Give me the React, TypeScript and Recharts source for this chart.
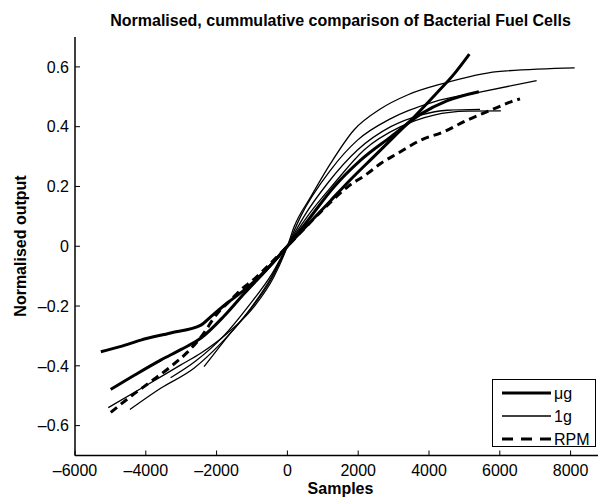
import { LineChart, Line, XAxis, YAxis, Legend } from 'recharts'

const FONT = '"Liberation Sans", Arial, Helvetica, sans-serif'

const X_DOMAIN = [-6000, 9000]
const Y_DOMAIN = [-0.7, 0.7]
const X_TICKS = [-6000, -4000, -2000, 0, 2000, 4000, 6000, 8000]
const Y_TICKS = [-0.6, -0.4, -0.2, 0, 0.2, 0.4, 0.6]

// μg runs (thick solid)
const ugA = [
  [-5270, -0.353], [-4700, -0.335], [-4140, -0.314], [-3300, -0.29], [-2444, -0.264],
  [-2167, -0.236], [-1700, -0.19], [-1225, -0.147], [-565, -0.075], [0, 0],
  [600, 0.075], [1200, 0.15], [1800, 0.225], [2400, 0.295], [3000, 0.365],
  [3600, 0.435], [4200, 0.51], [4700, 0.575], [5140, 0.643],
]
const ugB = [
  [-4990, -0.479], [-4300, -0.43], [-3580, -0.381], [-3000, -0.345], [-2450, -0.308],
  [-1800, -0.235], [-1220, -0.158], [-600, -0.08], [0, 0],
  [600, 0.09], [1320, 0.199], [2070, 0.288], [2920, 0.366], [3765, 0.442],
  [4520, 0.487], [5410, 0.517],
]

// 1g runs (thin solid)
const g1A = [
  [-5060, -0.54], [-4050, -0.47], [-3010, -0.397], [-2450, -0.358], [-1695, -0.291],
  [-940, -0.202], [-380, -0.102], [0, 0],
  [190, 0.065], [660, 0.165], [1220, 0.277], [1880, 0.389], [2635, 0.46],
  [3390, 0.506], [4420, 0.545], [5930, 0.584], [8115, 0.597],
]
const g1B = [
  [-4450, -0.546], [-3580, -0.475], [-2640, -0.408], [-1880, -0.325], [-1130, -0.224],
  [-470, -0.113], [0, 0],
  [375, 0.1], [1220, 0.255], [1980, 0.355], [2920, 0.427], [4140, 0.483],
  [5370, 0.514], [7040, 0.554],
]
const g1C = [
  [-2355, -0.403], [-1695, -0.303], [-1040, -0.208], [-470, -0.107], [0, 0],
  [470, 0.1], [1130, 0.21], [1980, 0.322], [2920, 0.4], [3765, 0.439],
  [4520, 0.455], [5440, 0.458],
]
const g1D = [
  [-3300, -0.44], [-2600, -0.385], [-1800, -0.3], [-1100, -0.2], [-450, -0.095], [0, 0],
  [565, 0.1], [1320, 0.21], [2165, 0.322], [3200, 0.4], [4140, 0.439],
  [5080, 0.452], [6030, 0.453],
]

// RPM run (thick dashed)
const rpmA = [
  [-4990, -0.556], [-4400, -0.5], [-3860, -0.453], [-3300, -0.403], [-2830, -0.355],
  [-2450, -0.305], [-1980, -0.225], [-1600, -0.18], [-1270, -0.141], [-990, -0.115],
  [-500, -0.06], [0, 0],
  [940, 0.115], [1695, 0.198], [2260, 0.243], [2635, 0.277], [3110, 0.31],
  [3765, 0.355], [4420, 0.383], [5080, 0.422], [5740, 0.455], [6310, 0.483], [6570, 0.493],
]

const STYLES = {
  ug: { width: 3, dash: undefined as string | undefined, legendDash: undefined as string | undefined },
  g1: { width: 1.3, dash: undefined as string | undefined, legendDash: undefined as string | undefined },
  rpm: { width: 3, dash: '8 5', legendDash: '11 8' },
}

const SERIES = [
  { id: 'ugA', kind: 'ug', pts: ugA },
  { id: 'ugB', kind: 'ug', pts: ugB },
  { id: 'g1A', kind: 'g1', pts: g1A },
  { id: 'g1B', kind: 'g1', pts: g1B },
  { id: 'g1C', kind: 'g1', pts: g1C },
  { id: 'g1D', kind: 'g1', pts: g1D },
  { id: 'rpmA', kind: 'rpm', pts: rpmA },
] as const

const LEGEND_ITEMS = [
  { label: 'μg', kind: 'ug' },
  { label: '1g', kind: 'g1' },
  { label: 'RPM', kind: 'rpm' },
] as const

const fmtX = (v: number) => String(v).replace('-', '\u2013')
const fmtY = (v: number) => (v === 0 ? '0' : v.toFixed(1).replace('-', '\u2013'))

const tickStyle = { fill: '#000', fontSize: 16, fontFamily: FONT }

function LegendBox() {
  return (
    <svg width={104} height={68} style={{ display: 'block' }}>
      <rect x={0.5} y={0.5} width={103} height={67} fill="#fff" stroke="#000" strokeWidth={1} />
      {LEGEND_ITEMS.map((it, i) => {
        const y = 14 + i * 23
        const s = STYLES[it.kind]
        return (
          <g key={it.label}>
            <line x1={10} x2={59} y1={y} y2={y} stroke="#000" strokeWidth={s.width}
              strokeDasharray={s.legendDash} />
            <text x={62} y={y + 6} textAnchor="start" fontSize={16} fontFamily={FONT} fill="#000">{it.label}</text>
          </g>
        )
      })}
    </svg>
  )
}

export default function App() {
  return (
    <div style={{ position: 'absolute', left: 0, top: 0, width: 598, height: 498, overflow: 'hidden', background: '#fff', fontFamily: FONT, color: '#000' }}>
      <div style={{ position: 'absolute', left: 0, width: 681, top: 11, textAlign: 'center', fontWeight: 'bold', fontSize: 16, lineHeight: '20px', whiteSpace: 'nowrap' }}>
        Normalised, cummulative comparison of Bacterial Fuel Cells
      </div>
      <LineChart width={612} height={498} margin={{ top: 37, right: 6, bottom: 0, left: 0 }}>
        <XAxis xAxisId="top" orientation="top" type="number" dataKey="x" domain={X_DOMAIN} ticks={X_TICKS}
          allowDataOverflow height={0} tick={false} tickSize={-5}
          axisLine={{ stroke: '#000', strokeWidth: 1.5 }} tickLine={{ stroke: '#000' }} />
        <XAxis type="number" dataKey="x" domain={X_DOMAIN} ticks={X_TICKS} allowDataOverflow height={42.5}
          tickSize={-5} tickMargin={14} tick={tickStyle} tickFormatter={fmtX}
          axisLine={{ stroke: '#000', strokeWidth: 1.5 }} tickLine={{ stroke: '#000' }} />
        <YAxis type="number" domain={Y_DOMAIN} ticks={Y_TICKS} allowDataOverflow width={75}
          tickSize={-5} tickMargin={11} tick={tickStyle} tickFormatter={fmtY}
          axisLine={{ stroke: '#000', strokeWidth: 1.5 }} tickLine={{ stroke: '#000' }} />
        {SERIES.map((s) => (
          <Line key={s.id} data={s.pts.map(([x, y]) => ({ x, y }))} dataKey="y" type="monotone"
            stroke="#000" strokeWidth={STYLES[s.kind].width} strokeDasharray={STYLES[s.kind].dash}
            dot={false} activeDot={false} isAnimationActive={false} legendType="none" />
        ))}
        <Legend layout="vertical" align="center" verticalAlign="middle" content={() => <LegendBox />}
          wrapperStyle={{ left: 492, top: 379, width: 104, height: 68 }} />
      </LineChart>
      <div style={{ position: 'absolute', left: 0, width: 681, top: 479, textAlign: 'center', fontWeight: 'bold', fontSize: 16, lineHeight: '20px' }}>
        Samples
      </div>
      <div style={{ position: 'absolute', left: -129, top: 236, width: 300, height: 20, lineHeight: '20px', textAlign: 'center', fontWeight: 'bold', fontSize: 16, transform: 'rotate(-90deg)' }}>
        Normalised output
      </div>
    </div>
  )
}
